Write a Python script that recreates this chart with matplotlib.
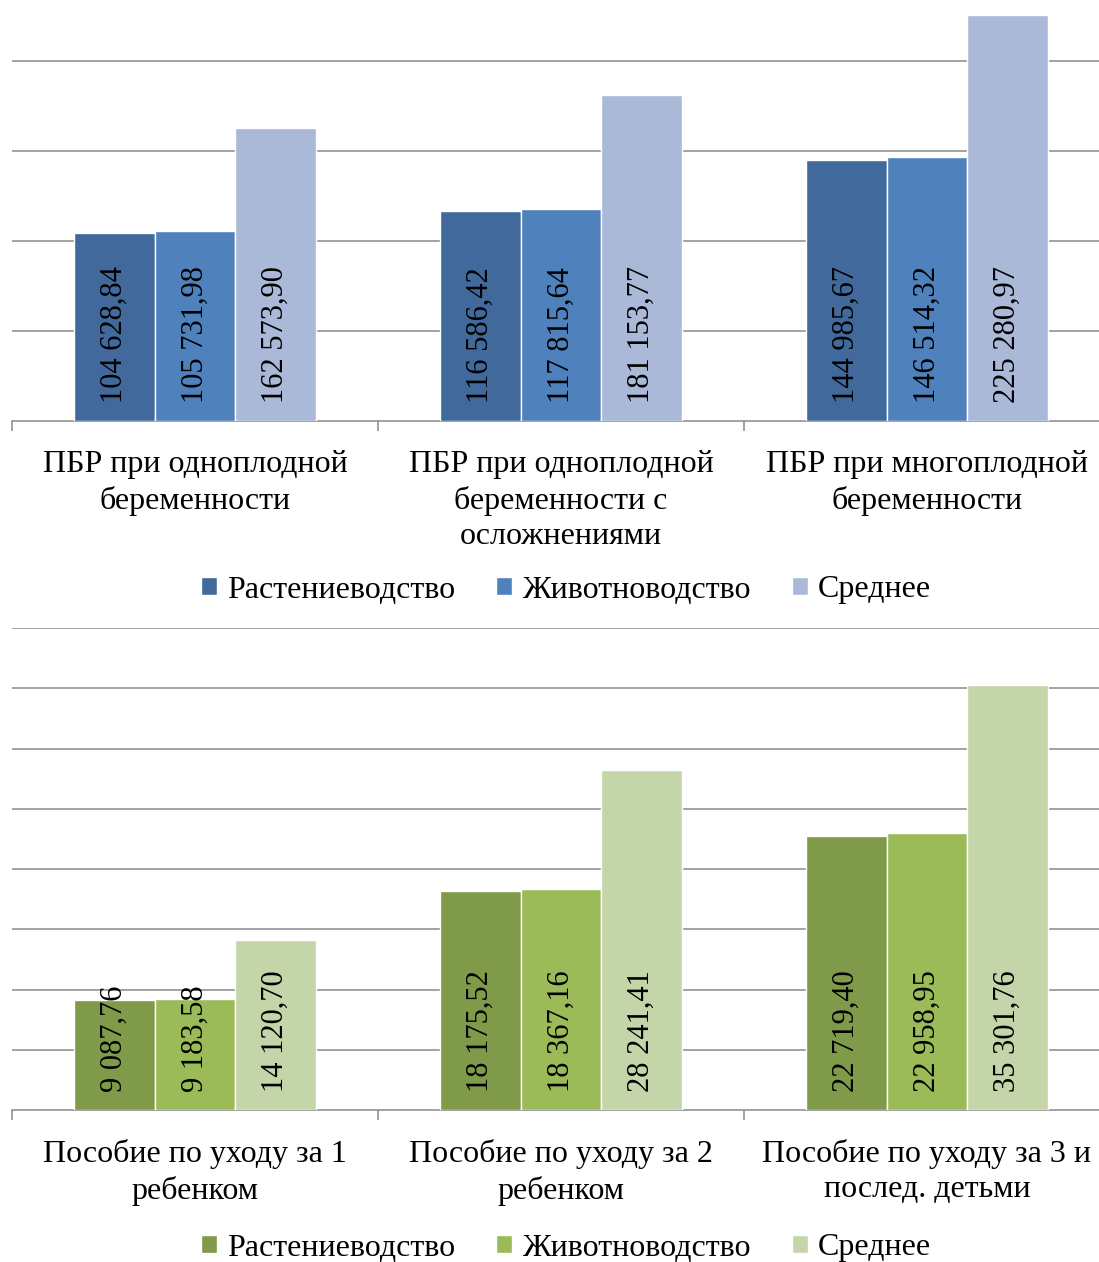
import matplotlib
matplotlib.use("Agg")
import matplotlib.pyplot as plt
import numpy as np
from matplotlib.patches import Patch

plt.rcParams["font.family"] = ["Liberation Serif", "DejaVu Serif"]

# --- data ---------------------------------------------------------------
series = ["Растениеводство", "Животноводство", "Среднее"]

top_categories = [
    "ПБР при одноплодной\nбеременности",
    "ПБР при одноплодной\nбеременности с\nосложнениями",
    "ПБР при многоплодной\nбеременности",
]
top_crop = [104628.84, 116586.42, 144985.67]
top_live = [105731.98, 117815.64, 146514.32]
top_mean = [162573.90, 181153.77, 225280.97]

bot_categories = [
    "Пособие по уходу за 1\nребенком",
    "Пособие по уходу за 2\nребенком",
    "Пособие по уходу за 3 и\nпослед. детьми",
]
bot_crop = [9087.76, 18175.52, 22719.40]
bot_live = [9183.58, 18367.16, 22958.95]
bot_mean = [14120.70, 28241.41, 35301.76]

top_colors = ["#41699b", "#4f81bd", "#aab9d7"]
bot_colors = ["#7f9a48", "#9bbb59", "#c4d6a9"]

W, H = 1099, 1262
FS = 23        # category labels, legend
FS_VAL = 22    # bar value labels


def fmt(v):
    return f"{v:,.2f}".replace(",", " ").replace(".", ",")


def draw(ax, cats, data, colors, ymax, step):
    x = np.arange(len(cats))
    bw = 0.22
    for k, (vals, col) in enumerate(zip(data, colors)):
        xs = x + (k - 1) * bw
        ax.bar(xs, vals, width=bw, color=col, edgecolor="white",
               linewidth=1.0, zorder=3)
        for xi, v in zip(xs, vals):
            ax.annotate(fmt(v), (xi, 0), xytext=(0, 13),
                        textcoords="offset points", rotation=90,
                        ha="center", va="bottom", fontsize=FS_VAL, zorder=4)
    ax.set_xlim(-0.5, 2.5)
    ax.set_ylim(0, ymax)
    ax.set_yticks(np.arange(step, ymax + 1, step))
    ax.yaxis.grid(True, color="#898989", linewidth=1.1, zorder=0)
    ax.tick_params(axis="y", left=False, labelleft=False)
    for s in ["top", "right", "left"]:
        ax.spines[s].set_visible(False)
    ax.spines["bottom"].set_color("#898989")
    ax.spines["bottom"].set_linewidth(1.1)
    ax.set_xticks([-0.5, 0.5, 1.5, 2.5])
    ax.set_xticklabels([])
    ax.tick_params(axis="x", which="major", length=7, width=1.1,
                   color="#898989", direction="out")
    ax.set_xticks(x, minor=True)
    ax.set_xticklabels(cats, minor=True, fontsize=FS, linespacing=1.28)
    ax.tick_params(axis="x", which="minor", length=0, pad=21)
    ax.set_axisbelow(True)


fig = plt.figure(figsize=(W / 100, H / 100), dpi=100)

# top chart: baseline at y=421 px, 50 000 per 90 px
ax1 = fig.add_axes([12 / W, 1 - 421 / H, 1098 / W, 450 / H])
draw(ax1, top_categories, [top_crop, top_live, top_mean], top_colors,
     250000, 50000)

# bottom chart: baseline at y=1110 px, 5 000 per 60.3 px
ax2 = fig.add_axes([12 / W, 1 - 1110 / H, 1098 / W, 482 / H])
draw(ax2, bot_categories, [bot_crop, bot_live, bot_mean], bot_colors,
     40000, 5000)

for colors, ypix in [(top_colors, 590), (bot_colors, 1248)]:
    handles = [Patch(facecolor=c, edgecolor="white") for c in colors]
    fig.legend(handles, series, loc="center",
               bbox_to_anchor=(566 / W, 1 - ypix / H), ncol=3,
               frameon=False, fontsize=FS, handlelength=0.5,
               handleheight=0.5, handletextpad=0.3, columnspacing=1.3)

fig.savefig("out.png", dpi=100, facecolor="white")
